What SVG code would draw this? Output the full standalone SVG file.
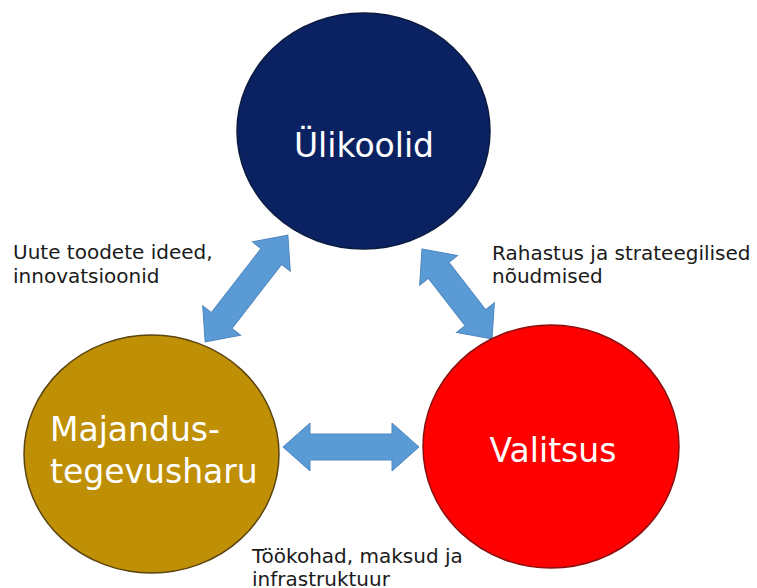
<svg xmlns="http://www.w3.org/2000/svg" width="757" height="588" viewBox="0 0 757 588">
<defs>
<style>
.node-label{font-family:"DejaVu Sans",Verdana,sans-serif;font-size:33px;fill:#ffffff}
.label{font-family:"DejaVu Sans",Verdana,sans-serif;font-size:20px;fill:#1a1a1a}
.arrow{fill:#5b9bd5;stroke:#4f86bf;stroke-width:1}
.circ{stroke-width:1.5}
</style>
</defs>
<rect width="757" height="588" fill="#ffffff"/>
<g id="connectors">
<polygon class="arrow" transform="translate(351,447)" points="-68,0 -41,-24 -41,-13 41,-13 41,-24 68,0 41,24 41,13 -41,13 -41,24"/>
<polygon class="arrow" transform="translate(246.5,288.5) rotate(-52.2)" points="-67.5,0 -40.5,-24 -40.5,-13 40.5,-13 40.5,-24 67.5,0 40.5,24 40.5,13 -40.5,13 -40.5,24"/>
<polygon class="arrow" transform="translate(457,294) rotate(52.1)" points="-57,0 -30,-24 -30,-13 30,-13 30,-24 57,0 30,24 30,13 -30,13 -30,24"/>
</g>
<g id="node-ulikoolid">
<ellipse class="circ" cx="363.5" cy="131" rx="126.5" ry="118" fill="#0b2262" stroke="#0a1a40"/>
<text class="node-label" x="364" y="157" text-anchor="middle">Ülikoolid</text>
</g>
<g id="node-majandus">
<ellipse class="circ" cx="151.5" cy="454" rx="127.5" ry="119" fill="#bf8f06" stroke="#5a4510"/>
<text class="node-label" x="50" y="441">Majandus-</text>
<text class="node-label" x="50" y="483">tegevusharu</text>
</g>
<g id="node-valitsus">
<ellipse class="circ" cx="551" cy="446.5" rx="128" ry="121.5" fill="#ff0000" stroke="#8a1010"/>
<text class="node-label" x="553" y="462" text-anchor="middle">Valitsus</text>
</g>
<g id="labels">
<text class="label" x="13" y="259">Uute toodete ideed,</text>
<text class="label" x="13" y="283">innovatsioonid</text>
<text class="label" x="492" y="260">Rahastus ja strateegilised</text>
<text class="label" x="492" y="283">nõudmised</text>
<text class="label" x="252" y="563">Töökohad, maksud ja</text>
<text class="label" x="252" y="586">infrastruktuur</text>
</g>
</svg>
